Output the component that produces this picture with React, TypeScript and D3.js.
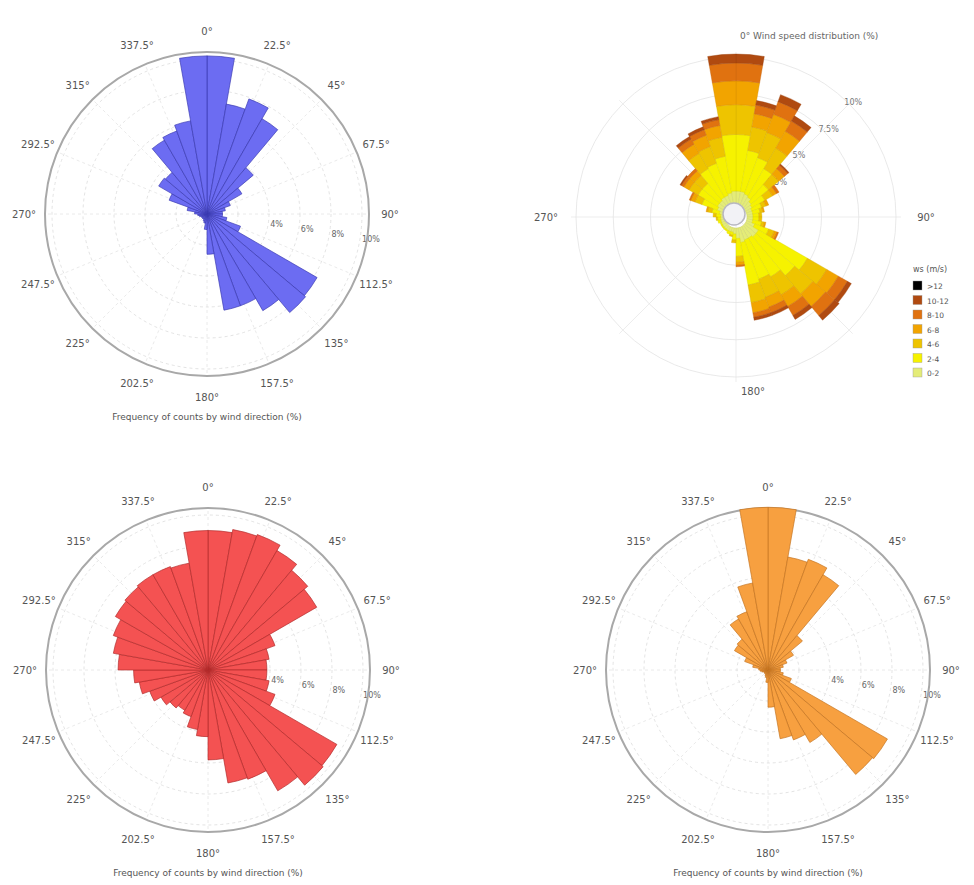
import React from "react";
import * as d3 from "d3";

const DIRECTIONS = [5, 15, 25, 35, 45, 55, 65, 75, 85, 95, 105, 115, 125, 135, 145, 155, 165, 175,
  185, 195, 205, 215, 225, 235, 245, 255, 265, 275, 285, 295, 305, 315, 325, 335, 345, 355];

const ANGLE_LABELS = ["0°", "22.5°", "45°", "67.5°", "90°", "112.5°", "135°", "157.5°", "180°",
  "202.5°", "225°", "247.5°", "270°", "292.5°", "315°", "337.5°"];
const ANGLE_POS = [0, 22.5, 45, 67.5, 90, 112.5, 135, 157.5, 180, 202.5, 225, 247.5, 270, 292.5, 315, 337.5];

const RING_VALUES = [2, 4, 6, 8, 10];
const RING_LABELS = ["", "4%", "6%", "8%", "10%"];

const BLUE = [10.2, 7.2, 7.9, 7.1, 3.9, 2.6, 1.6, 1.2, 1.0, 1.0, 1.3, 2.3, 8.2, 8.3, 7.2, 6.3, 6.3, 2.6,
  1.0, 0.6, 0.5, 0.4, 0.4, 0.4, 0.4, 0.5, 0.6, 0.8, 1.3, 2.6, 3.6, 3.5, 5.5, 5.7, 6.1, 10.2];

const RED = [9.0, 9.2, 9.3, 8.9, 8.4, 8.1, 4.6, 4.0, 3.8, 3.8, 4.0, 4.6, 9.6, 9.7, 9.0, 7.5, 7.4, 5.8,
  4.3, 3.9, 3.2, 3.0, 3.2, 3.5, 4.0, 4.5, 4.8, 5.8, 6.2, 6.5, 6.9, 7.0, 7.1, 7.1, 7.0, 9.0];

const ORANGE = [10.5, 7.4, 7.6, 7.1, 2.9, 1.9, 1.3, 1.0, 0.8, 0.8, 1.0, 1.6, 8.9, 8.8, 5.4, 4.8, 4.5, 2.4,
  0.8, 0.5, 0.4, 0.3, 0.3, 0.3, 0.3, 0.4, 0.5, 0.6, 1.0, 1.6, 2.5, 2.6, 3.8, 4.0, 5.7, 10.5];

// speed classes (stacked), % per direction
const SPEED_1 = [1.0, 1.0, 0.9, 0.8, 0.6, 0.5, 0.4, 0.4, 0.4, 0.4, 0.4, 0.6, 1.0, 1.0, 0.9, 0.9, 1.0, 0.7,
  0.4, 0.3, 0.3, 0.3, 0.3, 0.3, 0.3, 0.3, 0.3, 0.3, 0.4, 0.6, 0.7, 0.7, 0.8, 0.8, 0.9, 1.0];
const SPEED_2 = [3.8, 2.8, 2.6, 2.2, 1.5, 1.0, 0.7, 0.5, 0.4, 0.4, 0.6, 1.0, 3.8, 3.4, 3.0, 2.8, 2.9, 1.2,
  0.4, 0.2, 0.2, 0.1, 0.1, 0.1, 0.1, 0.2, 0.2, 0.3, 0.5, 1.1, 1.5, 1.5, 2.2, 2.3, 2.5, 3.8];
const SPEED_3 = [2.0, 1.6, 1.8, 1.6, 0.9, 0.6, 0.3, 0.2, 0.2, 0.2, 0.2, 0.4, 1.5, 1.6, 1.4, 1.3, 1.2, 0.4,
  0.2, 0.1, 0, 0, 0, 0, 0, 0, 0.1, 0.2, 0.3, 0.5, 0.7, 0.7, 1.2, 1.2, 1.3, 2.0];
const SPEED_4 = [1.6, 0.9, 1.3, 1.3, 0.5, 0.3, 0.2, 0.1, 0, 0, 0.1, 0.2, 0.9, 1.1, 0.9, 0.7, 0.7, 0.2,
  0, 0, 0, 0, 0, 0, 0, 0, 0, 0, 0.1, 0.3, 0.4, 0.4, 0.7, 0.8, 0.8, 1.6];
const SPEED_5 = [1.2, 0.6, 0.9, 0.8, 0.3, 0.2, 0, 0, 0, 0, 0, 0.1, 0.7, 0.8, 0.7, 0.4, 0.3, 0.1,
  0, 0, 0, 0, 0, 0, 0, 0, 0, 0, 0, 0.1, 0.2, 0.2, 0.4, 0.4, 0.4, 1.2];
const SPEED_6 = [0.6, 0.3, 0.5, 0.4, 0.1, 0, 0, 0, 0, 0, 0, 0, 0.3, 0.4, 0.3, 0.2, 0.2, 0,
  0, 0, 0, 0, 0, 0, 0, 0, 0, 0, 0, 0, 0.1, 0, 0.2, 0.2, 0.2, 0.6];
const SPEED_7 = [0, 0, 0, 0, 0, 0, 0, 0, 0, 0, 0, 0, 0, 0, 0, 0, 0, 0,
  0, 0, 0, 0, 0, 0, 0, 0, 0, 0, 0, 0, 0, 0, 0, 0, 0, 0];
const SPEED_CLASSES = [SPEED_1, SPEED_2, SPEED_3, SPEED_4, SPEED_5, SPEED_6, SPEED_7];
const SPEED_LABELS = ["0-2", "2-4", "4-6", "6-8", "8-10", "10-12", ">12"];
const SPEED_COLORS = ["#e4ec78", "#f6f200", "#eec400", "#f2a400", "#e07210", "#b04a10", "#000000"];
const SPEED_RINGS = [2.5, 5, 7.5, 10];
const SPEED_RING_LABELS = ["2.5%", "5%", "7.5%", "10%"];

const rad = (deg: number) => (deg * Math.PI) / 180;
const polar = (cx: number, cy: number, r: number, deg: number): [number, number] => [
  cx + r * Math.sin(rad(deg)),
  cy - r * Math.cos(rad(deg)),
];

function RosePanel({ cx, cy, values, fill, stroke, caption }: any) {
  const r = d3.scaleLinear().domain([0, 10]).range([0, 155]);
  const arc = d3.arc();
  const outerR = 162;
  return (
    <g>
      {ANGLE_POS.map((a, i) => {
        const [x2, y2] = polar(cx, cy, outerR, a);
        return <line key={"s" + i} x1={cx} y1={cy} x2={x2} y2={y2} stroke="#e4e4e4" strokeWidth={0.8} strokeDasharray="3,3" />;
      })}
      {RING_VALUES.map((v, i) => (
        <circle key={"r" + i} cx={cx} cy={cy} r={r(v)} fill="none" stroke="#dcdcdc" strokeWidth={0.8} strokeDasharray="3,3" />
      ))}
      {RING_VALUES.map((v, i) => {
        const [x, y] = polar(cx, cy, r(v) + 2, 99);
        return RING_LABELS[i] ? (
          <text key={"rl" + i} x={x} y={y + 3} fontSize={8} fill="#666" fontFamily="DejaVu Sans, sans-serif">{RING_LABELS[i]}</text>
        ) : null;
      })}
      <circle cx={cx} cy={cy} r={outerR} fill="none" stroke="#a8a8a8" strokeWidth={2} />
      {DIRECTIONS.map((d, i) => (
        <path
          key={"p" + i}
          transform={`translate(${cx},${cy})`}
          d={arc({ innerRadius: 0, outerRadius: r(values[i]), startAngle: rad(d - 5), endAngle: rad(d + 5) } as any) || ""}
          fill={fill}
          stroke={stroke}
          strokeWidth={0.8}
          strokeOpacity={0.85}
        />
      ))}
      {ANGLE_POS.map((a, i) => {
        const [x, y] = polar(cx, cy, 183, a);
        return (
          <text key={"al" + i} x={x} y={y + 4} textAnchor="middle" fontSize={10} fill="#555" fontFamily="DejaVu Sans, sans-serif">
            {ANGLE_LABELS[i]}
          </text>
        );
      })}
      <text x={cx} y={cy + 206} textAnchor="middle" fontSize={9} fill="#555" fontFamily="DejaVu Sans, sans-serif">
        {caption}
      </text>
    </g>
  );
}

function SpeedRose({ cx, cy }: any) {
  const offset = 11;
  const r = d3.scaleLinear().domain([0, 10]).range([offset, 160]);
  const arc = d3.arc();
  const cum: number[][] = [];
  DIRECTIONS.forEach((_, i) => {
    let acc = 0;
    cum.push(SPEED_CLASSES.map((cls) => (acc += cls[i])));
  });
  const legendX = 913;
  const legendY = 281;
  return (
    <g>
      {[0, 45, 90, 135, 180, 225, 270, 315].map((a, i) => {
        const [x2, y2] = polar(cx, cy, 165, a);
        return <line key={"s" + i} x1={cx} y1={cy} x2={x2} y2={y2} stroke="#e8e8e8" strokeWidth={0.8} />;
      })}
      {SPEED_RINGS.map((v, i) => (
        <circle key={"r" + i} cx={cx} cy={cy} r={r(v)} fill="none" stroke="#e6e6e6" strokeWidth={0.9} />
      ))}
      {SPEED_RINGS.map((v, i) => {
        const [x, y] = polar(cx, cy, r(v) - 4, 44);
        return (
          <text key={"rl" + i} x={x} y={y} fontSize={8} fill="#777" fontFamily="DejaVu Sans, sans-serif">{SPEED_RING_LABELS[i]}</text>
        );
      })}
      {SPEED_CLASSES.map((cls, k) =>
        DIRECTIONS.map((d, i) => {
          if (cls[i] <= 0) return null;
          const inner = k === 0 ? 0 : cum[i][k - 1];
          return (
            <path
              key={`b${k}-${i}`}
              transform={`translate(${cx},${cy})`}
              d={arc({ innerRadius: r(inner), outerRadius: r(cum[i][k]), startAngle: rad(d - 5), endAngle: rad(d + 5) } as any) || ""}
              fill={SPEED_COLORS[k]}
              stroke={d3.color(SPEED_COLORS[k])!.darker(0.35).toString()}
              strokeWidth={0.4}
            />
          );
        })
      )}
      <circle cx={cx - 2} cy={cy - 3} r={offset} fill="#f2f2f6" stroke="#b8b8c0" strokeWidth={1.5} />
      <text x={cx - 190} y={cy + 4} textAnchor="middle" fontSize={10} fill="#555" fontFamily="DejaVu Sans, sans-serif">270°</text>
      <text x={cx + 190} y={cy + 4} textAnchor="middle" fontSize={10} fill="#555" fontFamily="DejaVu Sans, sans-serif">90°</text>
      <text x={cx + 17} y={cy + 178} textAnchor="middle" fontSize={10} fill="#555" fontFamily="DejaVu Sans, sans-serif">180°</text>
      <text x={cx + 4} y={cy - 178} textAnchor="start" fontSize={9} fill="#666" fontFamily="DejaVu Sans, sans-serif">0°  Wind speed distribution (%)</text>
      <text x={legendX} y={legendY - 9} fontSize={8} fill="#555" fontFamily="DejaVu Sans, sans-serif">ws (m/s)</text>
      {SPEED_LABELS.slice().reverse().map((lab, j) => {
        const k = SPEED_LABELS.length - 1 - j;
        return (
          <g key={"lg" + j}>
            <rect x={legendX} y={legendY + j * 14.5} width={9} height={9} fill={SPEED_COLORS[k]} stroke="#999" strokeWidth={0.4} />
            <text x={legendX + 14} y={legendY + j * 14.5 + 8} fontSize={7.5} fill="#555" fontFamily="DejaVu Sans, sans-serif">{lab}</text>
          </g>
        );
      })}
    </g>
  );
}

export default function App() {
  return (
    <svg width={974} height={885} style={{ position: "absolute", left: 0, top: 0, background: "#fff" }}>
      <rect width={974} height={885} fill="#fff" />
      <RosePanel cx={207} cy={214} values={BLUE} fill="#6c6cf2" stroke="#3a3ab0" caption="Frequency of counts by wind direction (%)" />
      <SpeedRose cx={736} cy={217} />
      <RosePanel cx={208} cy={670} values={RED} fill="#f45252" stroke="#b02a2a" caption="Frequency of counts by wind direction (%)" />
      <RosePanel cx={768} cy={670} values={ORANGE} fill="#f7a040" stroke="#c47420" caption="Frequency of counts by wind direction (%)" />
    </svg>
  );
}
